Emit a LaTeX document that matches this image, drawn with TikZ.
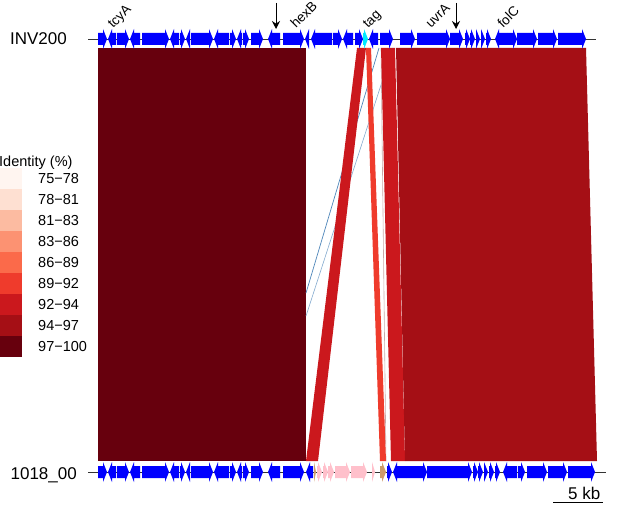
\documentclass[tikz,border=0pt]{standalone}
\usepackage{fontspec}
\setmainfont{Liberation Sans}
\usetikzlibrary{arrows.meta}
\definecolor{cA}{HTML}{FFF5F0}
\definecolor{cB}{HTML}{FEE0D2}
\definecolor{cC}{HTML}{FCBBA1}
\definecolor{cD}{HTML}{FC9272}
\definecolor{cE}{HTML}{FB6A4A}
\definecolor{cF}{HTML}{EF3B2C}
\definecolor{cG}{HTML}{CB181D}
\definecolor{cH}{HTML}{A50F15}
\definecolor{cI}{HTML}{67000D}
\definecolor{gblue}{HTML}{0000FF}
\definecolor{gcyan}{HTML}{00E8FF}
\definecolor{gpink}{HTML}{FFC0CB}
\definecolor{gtan}{HTML}{CD9B6A}
\definecolor{invline}{HTML}{4F86BA}
\definecolor{faint}{HTML}{C8A8A8}
\newcommand{\gn}[4]{%
  \pgfmathsetmacro{\hd}{(#2>#1) ? min(4,#2-#1) : -min(4,#1-#2)}%
  \pgfmathsetmacro{\hb}{#2-\hd}%
  \fill[#4] (#1,#3-6) -- (\hb,#3-6) -- (\hb,#3-10) -- (#2,#3) -- (\hb,#3+10) -- (\hb,#3+6) -- (#1,#3+6) -- cycle;}
\tikzset{
  lbl/.style={inner sep=0pt, font=\fontsize{17}{20}\selectfont},
  leg/.style={inner sep=0pt, font=\fontsize{14.5}{17}\selectfont, anchor=base west},
  glab/.style={inner sep=0pt, font=\fontsize{13.5}{15}\selectfont, rotate=45, anchor=base west},
  trackline/.style={line width=0.8pt, black!80},
  markarrow/.style={-{Stealth[length=8pt,width=8pt]}, line width=1pt},
}
\begin{document}
\begin{tikzpicture}[x=1pt,y=-1pt]
\useasboundingbox (0,0) rectangle (617,505);
\fill[white] (0,0) rectangle (617,505);
% comparisons
\fill[cI] (98,48) -- (306,48) -- (306,461) -- (98,461) -- cycle;
\draw[invline, line width=0.7pt] (379,48) -- (306,293);
\draw[invline!70, line width=0.6pt] (393,48) -- (306,316);
\draw[faint, line width=0.6pt] (381,48) -- (386,461);
\fill[cG] (357,48) -- (366,48) -- (318,461) -- (306,461) -- cycle;
\fill[cF] (366,48) -- (371,48) -- (386,461) -- (380,461) -- cycle;
\fill[cG] (381,48) -- (395,48) -- (405,461) -- (391,461) -- cycle;
\fill[cH] (396,48) -- (586,48) -- (597,461) -- (405,461) -- cycle;
% top track
\draw[trackline] (88,39) coordinate (t0) -- (596,39) coordinate (t1);
\foreach \a/\b in {98/107, 116/108, 117/129, 140/130, 142/169, 179/170, 180/185, 190/186, 191/213, 229/214, 230/236, 242/237, 243/249, 251/263, 280/268, 283/304, 309/305, 332/311, 333/342, 353/343, 355/363, 378/369, 380/393, 400/415, 417/450, 450/463, 465/470, 470/475, 476/480, 481/485, 486/491, 507/495, 507/517, 517/537, 538/557, 558/586}
  {\gn{\a}{\b}{39}{gblue}}
\gn{363}{368}{39}{gcyan}
% bottom track
\draw[trackline] (88,472) coordinate (b0) -- (606,472) coordinate (b1);
\foreach \a/\b in {98/107, 116/108, 117/129, 140/130, 142/169, 179/170, 180/185, 190/186, 191/213, 229/214, 230/236, 242/237, 243/249, 251/263, 280/268, 283/304, 313/306, 387/392, 406/393, 406/427, 427/472, 473/478, 478/483, 484/488, 489/494, 495/500, 517/503, 518/525, 527/547, 548/567, 568/595}
  {\gn{\a}{\b}{472}{gblue}}
\foreach \a/\b in {317/322, 323/328, 328/334, 335/350, 351/367, 372/375}
  {\gn{\a}{\b}{472}{gpink}}
\gn{314}{316}{472}{gtan}
\gn{380}{386}{472}{gtan}
% genome names
\node[lbl, anchor=base east] (inv) at (67,45) {INV200};
\node[lbl, anchor=base east] (ref) at (77,479) {1018\_00};
% gene labels
\node[glab] (g1) at (113,29) {tcyA};
\node[glab] (g2) at (296,29) {hexB};
\node[glab] (g3) at (368,29) {tag};
\node[glab] (g4) at (431,29) {uvrA};
\node[glab] (g5) at (503,29) {folC};
% marker arrows
\coordinate (m1s) at (276,3); \coordinate (m1e) at (276,29);
\coordinate (m2s) at (456,3); \coordinate (m2e) at (456,29);
\draw[markarrow] (m1s) -- (m1e);
\draw[markarrow] (m2s) -- (m2e);
% legend
\node[leg] (lt) at (-1,166) {Identity (\%)};
\foreach \c/\t [count=\i from 0] in {cA/75−78, cB/78−81, cC/81−83, cD/83−86, cE/86−89, cF/89−92, cG/92−94, cH/94−97, cI/97−100}{
  \fill[\c] (0,168+21*\i) rectangle (22,189+21*\i);
  \node[leg] (l\i) at (38,183.5+21*\i) {\t};
}
% scale bar
\node[lbl, anchor=base west] (sc) at (568,499) {5 kb};
\coordinate (s0) at (553,502); \coordinate (s1) at (603,502);
\draw[line width=1pt] (s0) -- (s1);
\end{tikzpicture}
\end{document}
